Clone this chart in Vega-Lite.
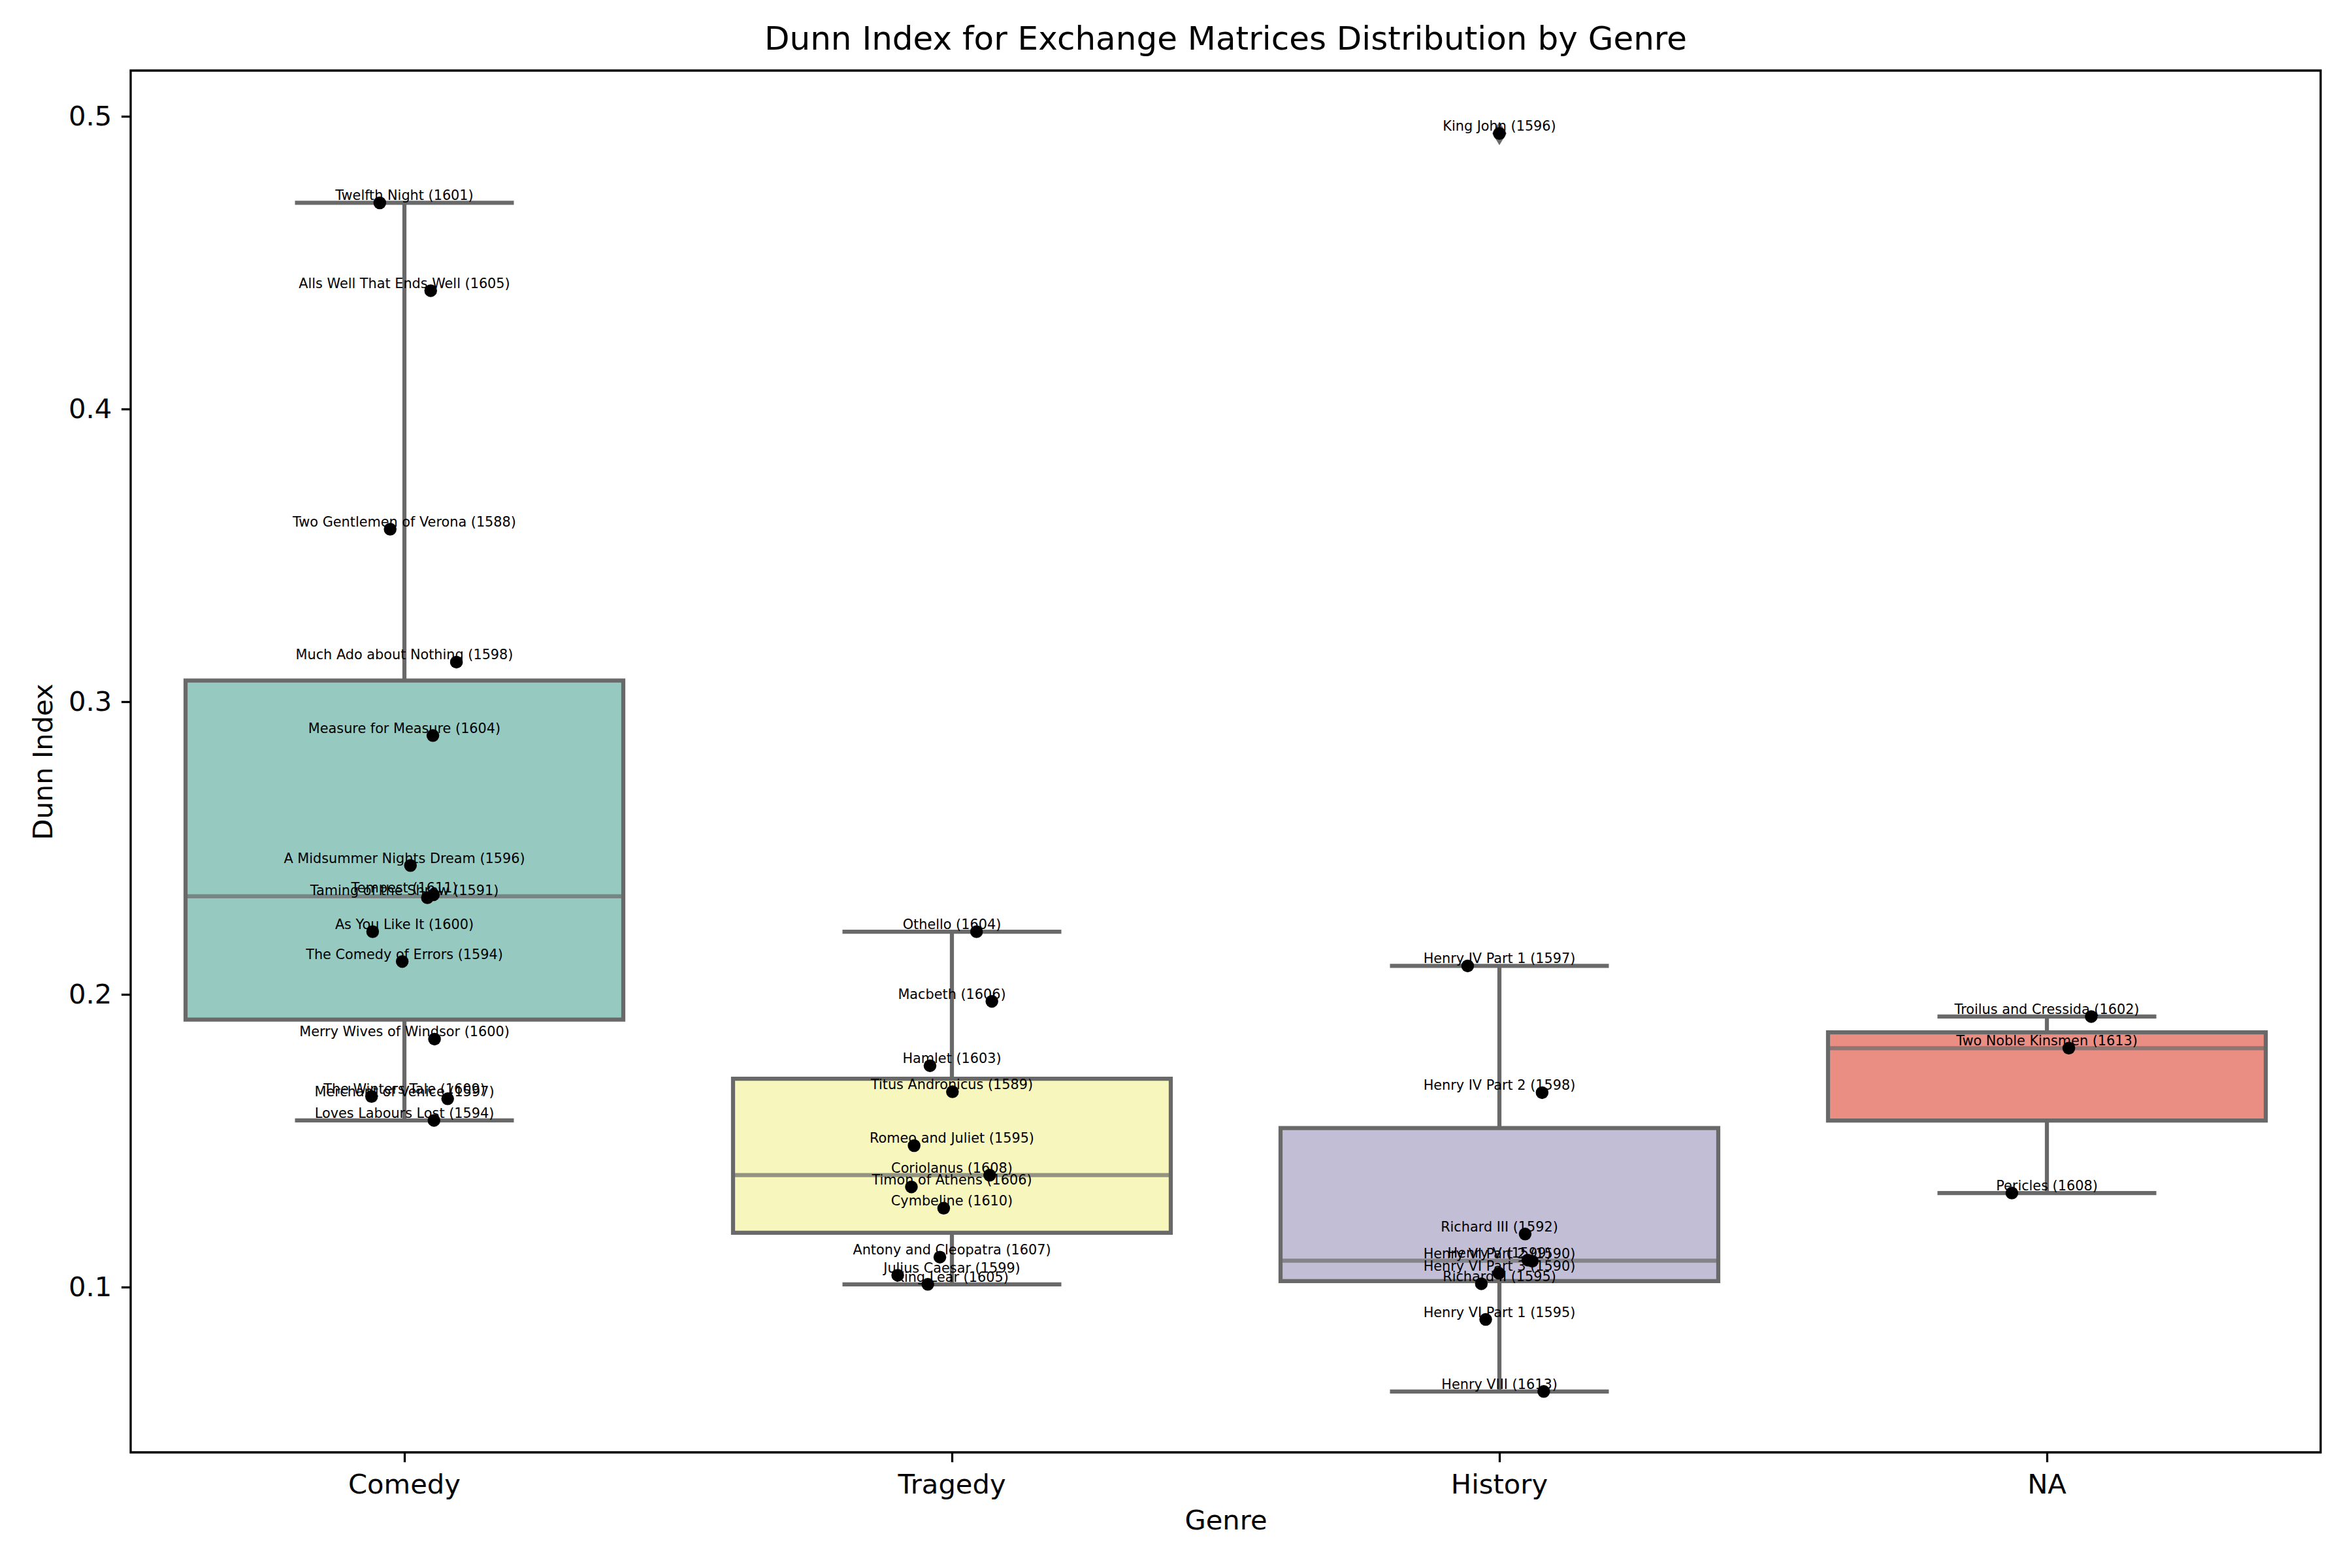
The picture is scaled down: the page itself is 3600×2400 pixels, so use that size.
{
  "$schema": "https://vega.github.io/schema/vega-lite/v6.json",
  "autosize": {"type": "none"},
  "padding": {"left": 200, "top": 108, "right": 48, "bottom": 177},
  "width": 3352,
  "height": 2115,
  "background": "white",
  "config": {
    "font": "DejaVu Sans",
    "view": {"stroke": "black", "strokeWidth": 3.3},
    "axis": {"labelFont": "DejaVu Sans", "titleFont": "DejaVu Sans", "labelColor": "black", "titleColor": "black", "tickColor": "black", "grid": false, "domain": false}
  },
  "title": {"text": "Dunn Index for Exchange Matrices Distribution by Genre", "fontSize": 50, "fontWeight": "normal", "font": "DejaVu Sans", "color": "black", "offset": 22, "anchor": "middle"},
  "data": {"values": [
    {"genre": "Comedy", "play": "Twelfth Night (1601)", "dunn": 0.4705, "jitter": -0.045},
    {"genre": "Comedy", "play": "Alls Well That Ends Well (1605)", "dunn": 0.4405, "jitter": 0.048},
    {"genre": "Comedy", "play": "Two Gentlemen of Verona (1588)", "dunn": 0.359, "jitter": -0.026},
    {"genre": "Comedy", "play": "Much Ado about Nothing (1598)", "dunn": 0.3136, "jitter": 0.095},
    {"genre": "Comedy", "play": "Measure for Measure (1604)", "dunn": 0.2885, "jitter": 0.052},
    {"genre": "Comedy", "play": "A Midsummer Nights Dream (1596)", "dunn": 0.2441, "jitter": 0.011},
    {"genre": "Comedy", "play": "Tempest (1611)", "dunn": 0.2341, "jitter": 0.053},
    {"genre": "Comedy", "play": "Taming of the Shrew (1591)", "dunn": 0.2331, "jitter": 0.042},
    {"genre": "Comedy", "play": "As You Like It (1600)", "dunn": 0.2215, "jitter": -0.058},
    {"genre": "Comedy", "play": "The Comedy of Errors (1594)", "dunn": 0.2113, "jitter": -0.004},
    {"genre": "Comedy", "play": "Merry Wives of Windsor (1600)", "dunn": 0.1848, "jitter": 0.055},
    {"genre": "Comedy", "play": "The Winters Tale (1609)", "dunn": 0.1652, "jitter": -0.06},
    {"genre": "Comedy", "play": "Merchant of Venice (1597)", "dunn": 0.1644, "jitter": 0.079},
    {"genre": "Comedy", "play": "Loves Labours Lost (1594)", "dunn": 0.157, "jitter": 0.054},
    {"genre": "Tragedy", "play": "Othello (1604)", "dunn": 0.2215, "jitter": 0.045},
    {"genre": "Tragedy", "play": "Macbeth (1606)", "dunn": 0.1977, "jitter": 0.073},
    {"genre": "Tragedy", "play": "Hamlet (1603)", "dunn": 0.1757, "jitter": -0.04},
    {"genre": "Tragedy", "play": "Titus Andronicus (1589)", "dunn": 0.1668, "jitter": 0.001},
    {"genre": "Tragedy", "play": "Romeo and Juliet (1595)", "dunn": 0.1484, "jitter": -0.069},
    {"genre": "Tragedy", "play": "Coriolanus (1608)", "dunn": 0.1383, "jitter": 0.069},
    {"genre": "Tragedy", "play": "Timon of Athens (1606)", "dunn": 0.1343, "jitter": -0.074},
    {"genre": "Tragedy", "play": "Cymbeline (1610)", "dunn": 0.127, "jitter": -0.015},
    {"genre": "Tragedy", "play": "Antony and Cleopatra (1607)", "dunn": 0.1103, "jitter": -0.022},
    {"genre": "Tragedy", "play": "Julius Caesar (1599)", "dunn": 0.1041, "jitter": -0.099},
    {"genre": "Tragedy", "play": "King Lear (1605)", "dunn": 0.101, "jitter": -0.044},
    {"genre": "History", "play": "King John (1596)", "dunn": 0.4942, "jitter": 0.0},
    {"genre": "History", "play": "Henry IV Part 1 (1597)", "dunn": 0.2098, "jitter": -0.058},
    {"genre": "History", "play": "Henry IV Part 2 (1598)", "dunn": 0.1665, "jitter": 0.078},
    {"genre": "History", "play": "Richard III (1592)", "dunn": 0.1182, "jitter": 0.047},
    {"genre": "History", "play": "Henry V (1599)", "dunn": 0.1093, "jitter": 0.052},
    {"genre": "History", "play": "Henry VI Part 2 (1590)", "dunn": 0.1089, "jitter": 0.06},
    {"genre": "History", "play": "Henry VI Part 3 (1590)", "dunn": 0.1048, "jitter": -0.001},
    {"genre": "History", "play": "Richard II (1595)", "dunn": 0.1012, "jitter": -0.033},
    {"genre": "History", "play": "Henry VI Part 1 (1595)", "dunn": 0.089, "jitter": -0.025},
    {"genre": "History", "play": "Henry VIII (1613)", "dunn": 0.0644, "jitter": 0.081},
    {"genre": "NA", "play": "Troilus and Cressida (1602)", "dunn": 0.1925, "jitter": 0.081},
    {"genre": "NA", "play": "Two Noble Kinsmen (1613)", "dunn": 0.1817, "jitter": 0.04},
    {"genre": "NA", "play": "Pericles (1608)", "dunn": 0.1322, "jitter": -0.064}
  ]},
  "encoding": {
    "x": {
      "field": "genre", "type": "nominal",
      "sort": ["Comedy", "Tragedy", "History", "NA"],
      "scale": {"paddingInner": 0, "paddingOuter": 0},
      "axis": {"title": "Genre", "labelAngle": 0, "labelFontSize": 41.7, "titleFontSize": 41.7, "titleFontWeight": "normal", "tickSize": 14.6, "tickWidth": 3.3, "labelPadding": 14.6, "titlePadding": 14}
    }
  },
  "layer": [
    {
      "mark": {
        "type": "boxplot",
        "extent": 1.5,
        "size": 670,
        "box": {"stroke": "#696969", "strokeWidth": 6.25},
        "median": {"color": "#696969", "thickness": 6.25},
        "rule": {"color": "#696969", "strokeWidth": 6.25},
        "ticks": {"color": "#696969", "size": 335, "thickness": 6.25},
        "outliers": {"shape": "M0,-1L0.6,0L0,1L-0.6,0Z", "color": "#696969", "fill": "#696969", "filled": true, "size": 1300, "opacity": 1}
      },
      "encoding": {
        "y": {
          "field": "dunn", "type": "quantitative",
          "scale": {"domain": [0.0436, 0.5157], "nice": false, "zero": false},
          "axis": {"title": "Dunn Index", "values": [0.1, 0.2, 0.3, 0.4, 0.5], "format": ".1f", "labelFontSize": 41.7, "titleFontSize": 41.7, "titleFontWeight": "normal", "tickSize": 14.6, "tickWidth": 3.3, "labelPadding": 14.6, "titlePadding": 16}
        },
        "color": {
          "field": "genre", "type": "nominal",
          "scale": {"domain": ["Comedy", "Tragedy", "History", "NA"], "range": ["#96cac1", "#f6f6bd", "#c1bed6", "#ea8e83"]},
          "legend": null
        }
      }
    },
    {
      "mark": {"type": "point", "filled": true, "color": "black", "size": 380, "opacity": 1, "strokeWidth": 0},
      "encoding": {
        "y": {"field": "dunn", "type": "quantitative"},
        "xOffset": {"field": "jitter", "type": "quantitative", "scale": {"domain": [-0.5, 0.5]}}
      }
    },
    {
      "mark": {"type": "text", "fontSize": 20.8, "font": "DejaVu Sans", "color": "black", "align": "center", "baseline": "bottom"},
      "encoding": {
        "y": {"field": "dunn", "type": "quantitative"},
        "text": {"field": "play", "type": "nominal"}
      }
    }
  ]
}
